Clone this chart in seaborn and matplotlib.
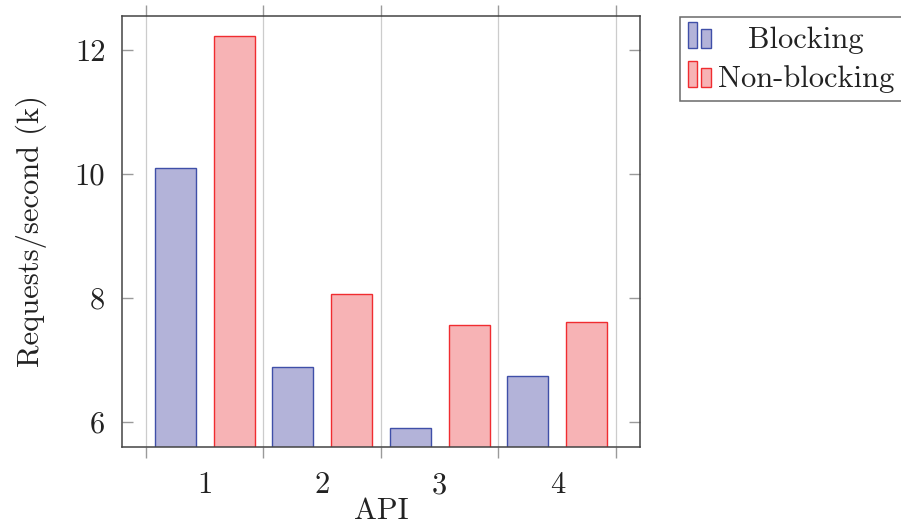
import pandas as pd
import matplotlib
matplotlib.use('Agg')
import matplotlib.pyplot as plt
import seaborn as sns
from matplotlib.patches import Rectangle
from matplotlib.legend_handler import HandlerBase

# Data
apis = ['1', '2', '3', '4']
blocking = [10.1, 6.89, 5.91, 6.75]
non_blocking = [12.23, 8.06, 7.56, 7.61]
modes = ['Blocking', 'Non-blocking']
y_ticks = [6, 8, 10, 12]

fills = {'Blocking': '#b3b3d9', 'Non-blocking': '#f7b3b5'}
edges = {'Blocking': '#3f4fa8', 'Non-blocking': '#f02c30'}

df = pd.DataFrame({
    'API': apis * 2,
    'rps': blocking + non_blocking,
    'Mode': [modes[0]] * len(apis) + [modes[1]] * len(apis),
})

sns.set_style('white')
plt.rcParams['font.family'] = 'cmr10'
plt.rcParams['font.size'] = 22
plt.rcParams['axes.formatter.use_mathtext'] = True


class TwoBars(HandlerBase):
    # pgfplots-style legend image: two small bars standing on the baseline
    def create_artists(self, legend, orig, xd, yd, w, h, fontsize, trans):
        kw = dict(facecolor=orig.get_facecolor(), edgecolor=orig.get_edgecolor(),
                  linewidth=1.0, transform=trans)
        r1 = Rectangle((0, 0), 6.8, 18.4, **kw)
        r2 = Rectangle((9.6, 0), 7.0, 13.9, **kw)
        return [r1, r2]


fig = plt.figure(figsize=(9.01, 5.25), dpi=100)
ax = fig.add_axes([0.1354, 0.1486, 0.5749, 0.8209])

sns.barplot(data=df, x='API', y='rps', hue='Mode', hue_order=modes,
            width=1.0, gap=0.3, ax=ax, legend=False)

for cont, m in zip(ax.containers, modes):
    for bar in cont:
        bar.set_facecolor(fills[m])
        bar.set_edgecolor(edges[m])
        bar.set_linewidth(1.0)

ax.set_ylim(5.6, 12.55)
ax.set_xlim(-0.704, 3.704)
ax.set_yticks(y_ticks)
ax.set_yticklabels([str(t) for t in y_ticks])
ax.set_xticks(range(len(apis)))
ax.set_xticklabels(apis)
ax.set_xticks([i - 0.5 for i in range(len(apis) + 1)], minor=True)

ax.tick_params(axis='y', which='major', direction='in', left=True, right=True,
               length=8, width=1.0, color='#9a9a9a', pad=12, labelcolor='#222222')
ax.tick_params(axis='x', which='major', length=0, pad=18, labelcolor='#222222')
ax.tick_params(axis='x', which='minor', direction='out', bottom=True, top=True,
               length=8, width=1.0, color='#9a9a9a')
ax.grid(axis='x', which='minor', color='#cccccc', linewidth=0.9)
ax.grid(axis='x', which='major', visible=False)
ax.set_axisbelow(True)

for s in ax.spines.values():
    s.set_color('#444444')
    s.set_linewidth(1.1)

ax.set_xlabel('API', color='#222222', labelpad=-1)
ax.set_ylabel('Requests/second (k)', color='#222222', labelpad=20)

handles = [Rectangle((0, 0), 1, 1, facecolor=fills[m], edgecolor=edges[m]) for m in modes]
leg = fig.legend(handles, modes, loc='upper left',
                 bbox_to_anchor=(679.5 / 901, 1 - 16.7 / 525),
                 handler_map={Rectangle: TwoBars()},
                 handlelength=0.755, handleheight=0.88, handletextpad=0.22,
                 borderpad=0.27, labelspacing=0.32, borderaxespad=0,
                 fancybox=False, frameon=True)
leg.get_frame().set_edgecolor('#444444')
leg.get_frame().set_linewidth(1.1)
for t in leg.get_texts():
    t.set_color('#222222')

# centre the legend entries in the text column like pgfplots does
fig.canvas.draw()
r = fig.canvas.get_renderer()
widths = [t.get_window_extent(r).width for t in leg.get_texts()]
for t, w in zip(leg.get_texts(), widths):
    t.set_x((max(widths) - w) / 2)

fig.savefig('out.png', dpi=100)
